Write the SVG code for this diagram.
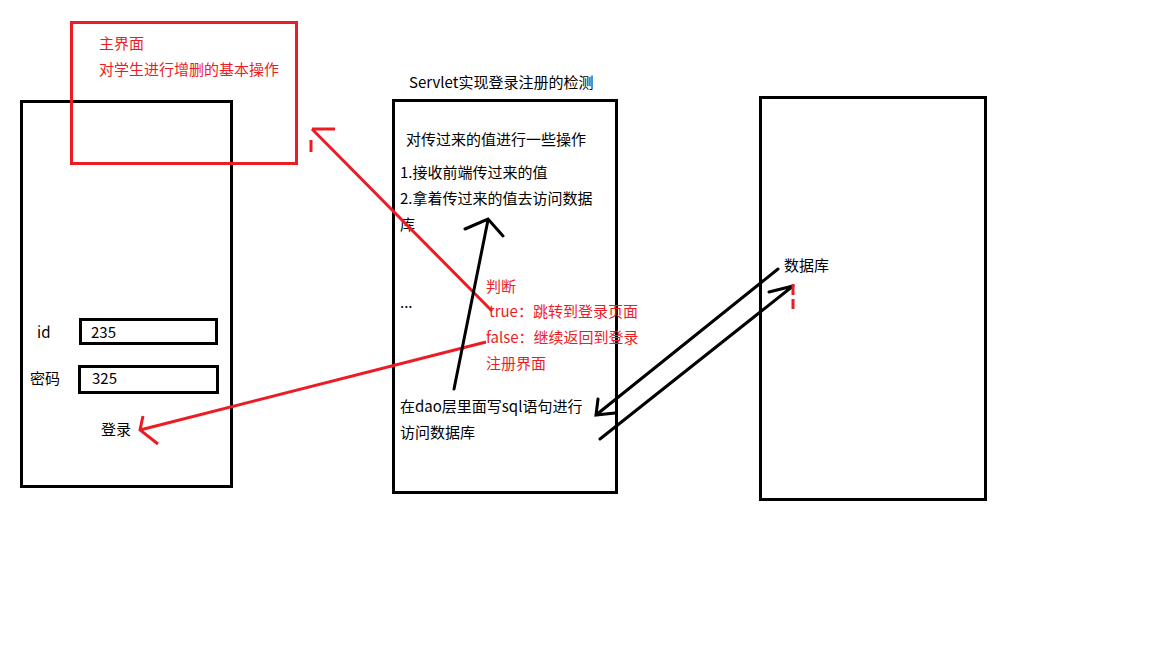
<svg xmlns="http://www.w3.org/2000/svg" width="1152" height="648" viewBox="0 0 1152 648">
<style>
text{font-family:"Noto Sans CJK SC","Microsoft YaHei",sans-serif;font-size:15px;fill:#000}
.r{fill:#ED1C24}
.box{fill:none;stroke:#000;stroke-width:3}
.rbox{fill:none;stroke:#ED1C24;stroke-width:3}
.k{fill:none;stroke:#000;stroke-width:3;stroke-linecap:round}
.rl{fill:none;stroke:#ED1C24;stroke-width:3;stroke-linecap:butt}
</style>
<rect width="1152" height="648" fill="#fff"/>
<g id="login-page">
<rect class="box" x="21.5" y="101.5" width="210" height="385"/>
<text x="37" y="338">id</text>
<rect class="box" x="80.5" y="319.5" width="136" height="24"/>
<text x="91" y="338">235</text>
<text x="30" y="384">密码</text>
<rect class="box" x="79.5" y="366.5" width="138" height="26"/>
<text x="92" y="384">325</text>
<text x="101" y="435">登录</text>
</g>
<g id="main-page">
<rect class="rbox" x="71.5" y="22.5" width="225" height="141"/>
<text class="r" x="99" y="49">主界面</text>
<text class="r" x="99" y="75">对学生进行增删的基本操作</text>
</g>
<g id="servlet">
<text x="409" y="88">Servlet实现登录注册的检测</text>
<rect class="box" x="393.5" y="100.5" width="223" height="392"/>
<text x="406" y="145">对传过来的值进行一些操作</text>
<text x="400" y="178">1.接收前端传过来的值</text>
<text x="400" y="204">2.拿着传过来的值去访问数据</text>
<text x="400" y="230">库</text>
<text x="400" y="308">...</text>
<text x="400" y="412">在dao层里面写sql语句进行</text>
<text x="400" y="438">访问数据库</text>
</g>
<g id="judge">
<text class="r" x="486" y="292">判断</text>
<text class="r" x="489" y="317">true：跳转到登录页面</text>
<text class="r" x="486" y="343">false：继续返回到登录</text>
<text class="r" x="486" y="369">注册界面</text>
</g>
<g id="database">
<rect class="box" x="760.5" y="97.5" width="225" height="402"/>
<text x="784" y="271">数据库</text>
</g>
<g id="connectors">
<path class="rl" d="M492,311 L312,129 M312,129 L335,129 M311,140 L311,152"/>
<path class="rl" d="M486,342 L140,430 M143,416 L140,430 L158,444"/>
<path class="k" d="M454,389 L488,220 M465,229 L488,219 L503,236"/>
<path class="k" d="M778,269 L596,415 M598,399 L596,415 L615,413"/>
<path class="k" d="M600,439 L793,286 M769,292 L793,286"/>
<path class="rl" d="M793,284 L793,295 M793,299 L793,309"/>
</g>
</svg>
